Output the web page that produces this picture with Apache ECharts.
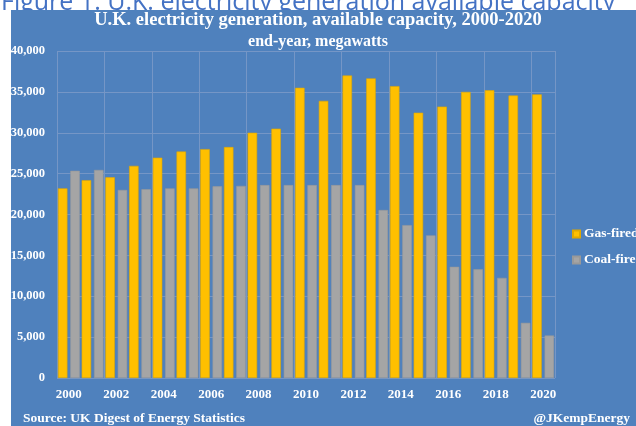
<!DOCTYPE html>
<html>
<head>
<meta charset="utf-8">
<script src="https://cdn.jsdelivr.net/npm/echarts@6/dist/echarts.min.js"></script>
<style>
  html, body { margin: 0; padding: 0; background: #ffffff; }
  #chart { width: 636px; height: 426px; }
</style>
</head>
<body>
<div id="chart"></div>
<script>
// UK electricity generation, available capacity at end of year (MW)
const years = ['2000','2001','2002','2003','2004','2005','2006','2007','2008','2009','2010',
               '2011','2012','2013','2014','2015','2016','2017','2018','2019','2020'];
const gasFired = [23200, 24200, 24550, 25950, 26950, 27700, 28000, 28250, 30000, 30500, 35500,
                  33900, 37000, 36650, 35700, 32450, 33200, 35000, 35200, 34550, 34700];
const coalFired = [25350, 25450, 23000, 23100, 23200, 23200, 23450, 23500, 23600, 23600, 23600,
                   23600, 23600, 20550, 18700, 17450, 13600, 13300, 12250, 6750, 5200];
const seriesNames = ['Gas-fired', 'Coal-fired'];
const yTicks = { min: 0, max: 40000, step: 5000 };

const serif = '"Liberation Serif", "DejaVu Serif", serif';
const panelBlue = '#4F81BD';

const chart = echarts.init(document.getElementById('chart'), null, { renderer: 'canvas' });

chart.setOption({
  // the whole canvas is the blue panel; white strips frame it on the top and left
  backgroundColor: panelBlue,
  animation: false,
  graphic: [
    {
      type: 'rect', z: 0,
      shape: { x: 0, y: 0, width: 636, height: 10 },
      style: { fill: '#ffffff' }
    },
    {
      type: 'text', x: 1, y: 15, z: 1,
      style: {
        text: 'Figure 1: U.K. electricity generation available capacity',
        font: '25px "Open Sans", "Liberation Sans", sans-serif',
        fill: '#4472C4',
        align: 'left', verticalAlign: 'bottom'
      }
    },
    {
      type: 'rect', z: 2,
      shape: { x: 0, y: 10, width: 636, height: 8 },
      style: { fill: panelBlue }
    },
    {
      type: 'rect', z: 10,
      shape: { x: 0, y: 10, width: 11, height: 416 },
      style: { fill: '#ffffff' }
    },
    {
      type: 'text', x: 318, y: 20, z: 3,
      style: {
        text: 'U.K. electricity generation, available capacity, 2000-2020',
        font: 'bold 18.5px ' + serif, fill: '#ffffff',
        align: 'center', verticalAlign: 'middle'
      }
    },
    {
      type: 'text', x: 318, y: 42, z: 3,
      style: {
        text: 'end-year, megawatts',
        font: 'bold 16px ' + serif, fill: '#ffffff',
        align: 'center', verticalAlign: 'middle'
      }
    },
    {
      type: 'text', x: 23, y: 419, z: 3,
      style: {
        text: 'Source: UK Digest of Energy Statistics',
        font: 'bold 13.5px ' + serif, fill: '#ffffff',
        align: 'left', verticalAlign: 'middle'
      }
    },
    {
      type: 'text', x: 630, y: 419, z: 3,
      style: {
        text: '@JKempEnergy',
        font: 'bold 13.5px ' + serif, fill: '#ffffff',
        align: 'right', verticalAlign: 'middle'
      }
    }
  ],
  legend: {
    orient: 'vertical',
    left: 572, top: 227, padding: 0,
    itemWidth: 7, itemHeight: 7, itemGap: 12,
    icon: 'rect',
    data: seriesNames,
    textStyle: { color: '#ffffff', fontFamily: serif, fontWeight: 'bold', fontSize: 13.5, padding: [0, 0, 0, -1] }
  },
  grid: { left: 57, right: 81, top: 51, bottom: 48, containLabel: false },
  xAxis: {
    type: 'category',
    data: years,
    axisLine: { show: false },
    axisTick: { show: false },
    axisLabel: {
      interval: 1, margin: 10,
      color: '#ffffff', fontFamily: serif, fontWeight: 'bold', fontSize: 13
    },
    splitLine: { show: true, interval: 1, lineStyle: { color: '#7596C6', width: 1 } }
  },
  yAxis: {
    type: 'value',
    min: yTicks.min, max: yTicks.max, interval: yTicks.step,
    axisLine: { show: false },
    axisTick: { show: false },
    axisLabel: {
      margin: 12,
      color: '#ffffff', fontFamily: serif, fontWeight: 'bold', fontSize: 12.5,
      formatter: v => v.toLocaleString('en-US')
    },
    splitLine: { lineStyle: { color: '#7596C6', width: 1 } }
  },
  series: [
    {
      name: seriesNames[0], type: 'bar', data: gasFired,
      barGap: '30%', barCategoryGap: '8%',
      itemStyle: { color: '#FFC000', borderColor: '#E0A800', borderWidth: 0.6 }
    },
    {
      name: seriesNames[1], type: 'bar', data: coalFired,
      itemStyle: { color: '#A5A5A5', borderColor: '#999999', borderWidth: 0.6 }
    }
  ]
});
</script>
</body>
</html>
